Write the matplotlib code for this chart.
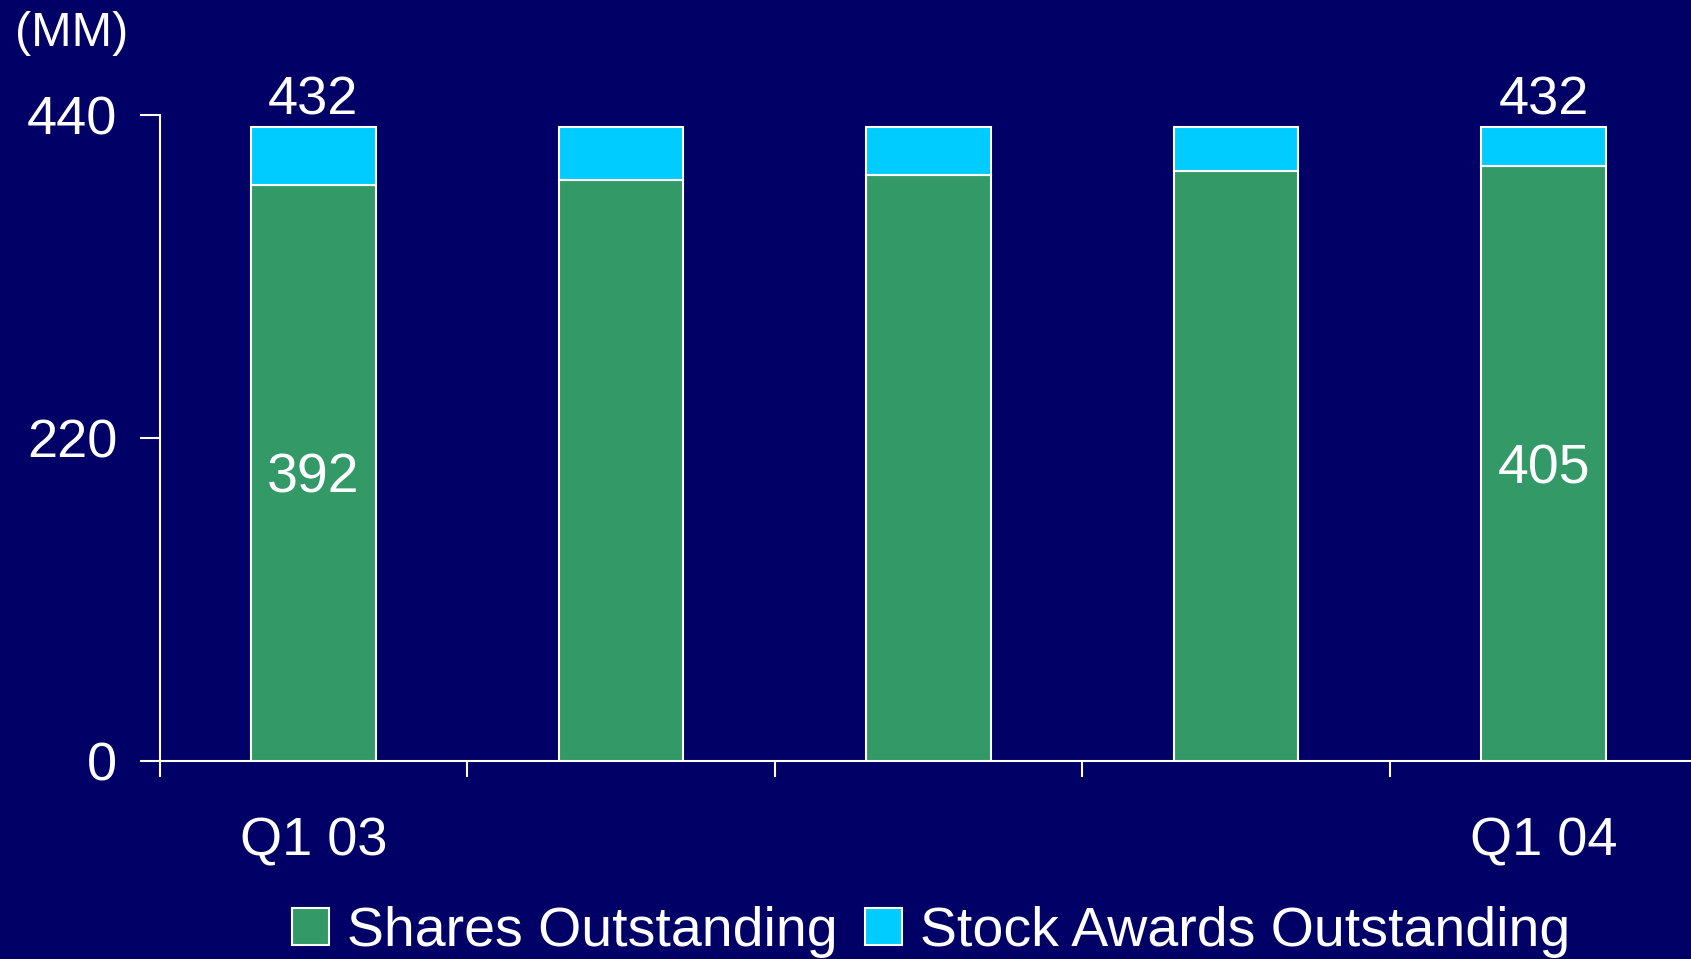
import matplotlib
matplotlib.use("Agg")
import matplotlib.pyplot as plt
from matplotlib.patches import Patch
import numpy as np

# Data
categories = ["Q1 03", "Q2 03", "Q3 03", "Q4 03", "Q1 04"]
shown_labels = ["Q1 03", "", "", "", "Q1 04"]
shares = [392, 396, 399, 402, 405]
totals = [432, 432, 432, 432, 432]
awards = [t - s for t, s in zip(totals, shares)]
yticks = [0, 220, 440]
series_names = ["Shares Outstanding", "Stock Awards Outstanding"]

BG = "#000066"
GREEN = "#339966"
CYAN = "#00CCFF"
FONT = "Liberation Sans"

plt.rcParams["font.family"] = [FONT, "DejaVu Sans"]

fig = plt.figure(figsize=(16.91, 9.59), dpi=100, facecolor=BG)
ax = fig.add_axes([159.5 / 1691, 1 - 761 / 959, (1697.5 - 159.5) / 1691, (761 - 115) / 959])
ax.set_facecolor(BG)

x = np.arange(len(categories))
w = 0.405
ax.bar(x, shares, width=w, color=GREEN, edgecolor="white", linewidth=1.5, zorder=3)
ax.bar(x, awards, width=w, bottom=shares, color=CYAN, edgecolor="white", linewidth=1.5, zorder=3)

ax.set_xlim(-0.5, len(categories) - 0.5)
ax.set_ylim(0, 440)

for s in ["top", "right"]:
    ax.spines[s].set_visible(False)
for s in ["left", "bottom"]:
    ax.spines[s].set_color("white")
    ax.spines[s].set_linewidth(1.5)

ax.set_yticks(yticks)
ax.set_yticklabels([str(v) for v in yticks])
ax.tick_params(axis="y", colors="white", length=14.5, width=1.5, pad=16, labelsize=39)

ax.set_xticks(np.arange(len(categories) + 1) - 0.5)
ax.set_xticklabels([])
ax.tick_params(axis="x", which="major", colors="white", length=11.5, width=1.5)
ax.set_xticks(x, minor=True)
ax.set_xticklabels(shown_labels, minor=True)
ax.tick_params(axis="x", which="minor", length=0, pad=40, labelsize=39, labelcolor="white")

# value labels
for i in [0, 4]:
    ax.annotate(str(totals[i]), (x[i], totals[i]), xytext=(0, 1), textcoords="offset points",
                ha="center", va="bottom", color="white", fontsize=39, zorder=5)
    ax.annotate(str(shares[i]), (x[i], shares[i] / 2), xytext=(0, -4), textcoords="offset points",
                ha="center", va="center", color="white", fontsize=40, zorder=5)

fig.text(15 / 1691, 1 - 33 / 959, "(MM)", color="white", fontsize=35, ha="left", va="center")

handles = [Patch(facecolor=GREEN, edgecolor="white", linewidth=1.5),
           Patch(facecolor=CYAN, edgecolor="white", linewidth=1.5)]
fig.legend(handles, series_names, loc="center", bbox_to_anchor=(931 / 1691, 1 - 932 / 959),
           ncol=2, frameon=False, fontsize=40, labelcolor="white",
           handlelength=0.66, handleheight=0.66, handletextpad=0.32, columnspacing=0.5,
           borderaxespad=0, borderpad=0)

fig.savefig("out.png", dpi=100, facecolor=BG)
